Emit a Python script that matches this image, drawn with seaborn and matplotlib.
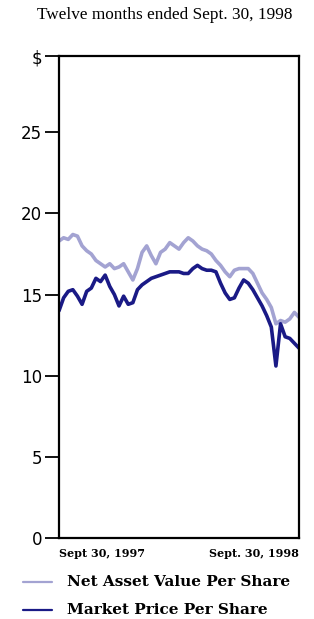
import numpy as np
import pandas as pd
import seaborn as sns
import matplotlib
matplotlib.use("Agg")
import matplotlib.pyplot as plt

# weekly readings, Sept 30 1997 -> Sept 30 1998
weeks = pd.date_range("1997-09-30", periods=53, freq="7D")

nav = [18.3, 18.5, 18.4, 18.7, 18.6, 18.0, 17.7, 17.5, 17.1, 16.9,
       16.7, 16.9, 16.6, 16.7, 16.9, 16.4, 15.9, 16.6, 17.6, 18.0,
       17.4, 16.9, 17.6, 17.8, 18.2, 18.0, 17.8, 18.2, 18.5, 18.3,
       18.0, 17.8, 17.7, 17.5, 17.1, 16.8, 16.4, 16.1, 16.5, 16.6,
       16.6, 16.6, 16.3, 15.7, 15.1, 14.7, 14.2, 13.2, 13.4, 13.3,
       13.5, 13.9, 13.6]

market = [14.0, 14.8, 15.2, 15.3, 14.9, 14.4, 15.2, 15.4, 16.0, 15.8,
          16.2, 15.5, 15.0, 14.3, 14.9, 14.4, 14.5, 15.3, 15.6, 15.8,
          16.0, 16.1, 16.2, 16.3, 16.4, 16.4, 16.4, 16.3, 16.3, 16.6,
          16.8, 16.6, 16.5, 16.5, 16.4, 15.7, 15.1, 14.7, 14.8, 15.4,
          15.9, 15.7, 15.3, 14.8, 14.3, 13.7, 13.0, 10.6, 13.2, 12.4,
          12.3, 12.0, 11.7]

series_names = ["Net Asset Value Per Share", "Market Price Per Share"]
y_ticks = [0, 5, 10, 15, 20, 25, 30]
y_labels = ["0", "5", "10", "15", "20", "25", "$"]
x_labels = ["Sept 30, 1997", "Sept. 30, 1998"]

df = pd.concat([
    pd.DataFrame({"date": weeks, "value": nav, "series": series_names[0]}),
    pd.DataFrame({"date": weeks, "value": market, "series": series_names[1]}),
])

sns.set_style("white")
W, H = 314, 619
fig = plt.figure(figsize=(W / 100, H / 100), dpi=100)
ax = fig.add_axes([59 / W, (H - 538) / H, 240 / W, (538 - 56) / H])

palette = {series_names[0]: "#a3a3d2", series_names[1]: "#1a1a86"}
sns.lineplot(data=df, x="date", y="value", hue="series", palette=palette,
             linewidth=2.6, ax=ax, legend=False)

ax.set_xlim(weeks[0], weeks[-1])
ax.set_ylim(0, 29.7)
ax.set_yticks([t if t < 30 else 29.7 for t in y_ticks])
ax.set_yticklabels(y_labels, fontsize=12, family="DejaVu Sans")
ax.tick_params(axis="y", direction="out", length=10, width=1.3, pad=2,
               left=True, colors="black")
ax.set_xticks([weeks[0], weeks[-1]])
ax.set_xticklabels(x_labels, fontsize=8, family="DejaVu Serif",
                   fontweight="bold")
ax.get_xticklabels()[0].set_ha("left")
ax.get_xticklabels()[1].set_ha("right")
ax.tick_params(axis="x", length=0, pad=7, labelcolor="black")
ax.set_xlabel("")
ax.set_ylabel("")
for s in ax.spines.values():
    s.set_visible(True)
    s.set_color("black")
    s.set_linewidth(1.6)

fig.text(164.5 / W, 1 - 15 / H, "Twelve months ended Sept. 30, 1998",
         ha="center", va="center", fontsize=12.4, family="Liberation Serif",
         color="black")

# legend
for i, name in enumerate(series_names):
    y = 1 - (582 + 28 * i) / H
    fig.add_artist(plt.Line2D([23 / W, 52 / W], [y, y], color=palette[name],
                              linewidth=1.6, transform=fig.transFigure))
    fig.text(67 / W, y, name, ha="left", va="center", fontsize=11,
             family="DejaVu Serif", fontweight="bold", color="black")

fig.savefig("out.png", dpi=100)
